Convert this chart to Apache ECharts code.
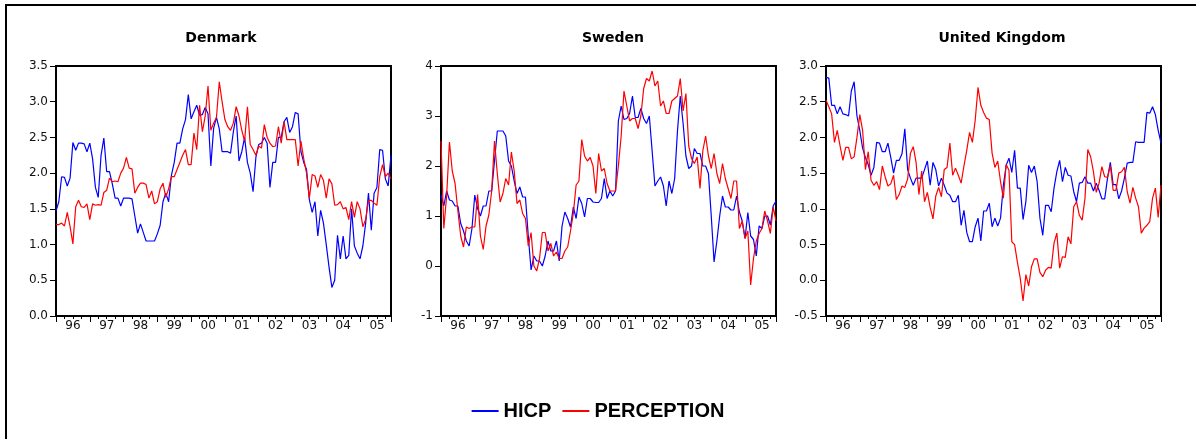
<!DOCTYPE html>
<html>
<head>
    <meta charset="utf-8">
    <title>HICP vs perception</title>
    <script src="https://cdn.jsdelivr.net/npm/echarts@6/dist/echarts.min.js"></script>
    <style>
        html, body { margin: 0; padding: 0; background: #fff; }
        #main { width: 1196px; height: 439px; }
    </style>
</head>
<body>
<div id="main"></div>
<script type="text/javascript">
    // monthly observations, 1996M01 .. 2005M12
    var yearLabels = ['96', '97', '98', '99', '00', '01', '02', '03', '04', '05'];
    var countries = ['Denmark', 'Sweden', 'United Kingdom'];

    var dkHicp = [
        1.47, 1.6, 1.95, 1.94, 1.82, 1.93, 2.43, 2.32, 2.42, 2.42, 2.41, 2.3,
        2.42, 2.2, 1.8, 1.66, 2.25, 2.49, 2.02, 2.02, 1.85, 1.65, 1.65, 1.54,
        1.65, 1.65, 1.65, 1.64, 1.4, 1.16, 1.29, 1.17, 1.05, 1.05, 1.05, 1.05,
        1.15, 1.27, 1.6, 1.72, 1.6, 1.97, 2.15, 2.42, 2.42, 2.62, 2.75, 3.1,
        2.76, 2.86, 2.95, 2.81, 2.82, 2.92, 2.83, 2.1, 2.63, 2.78, 2.62, 2.3,
        2.3, 2.3, 2.28, 2.58, 2.8, 2.17, 2.3, 2.5, 2.15, 2.0, 1.74, 2.22,
        2.4, 2.42, 2.5, 2.42, 1.8, 2.15, 2.15, 2.5, 2.5, 2.72, 2.78, 2.57,
        2.65, 2.85, 2.83, 2.3, 2.15, 2.05, 1.63, 1.45, 1.6, 1.12, 1.48, 1.3,
        1.0, 0.68, 0.4, 0.5, 1.13, 0.8, 1.12, 0.8, 0.85, 1.5, 0.98, 0.88,
        0.8, 0.98, 1.3, 1.72, 1.2, 1.72, 1.8, 2.33, 2.32, 1.92, 1.82, 2.25
    ];
    var dkPerc = [
        1.28, 1.28, 1.3, 1.26, 1.45, 1.25, 1.01, 1.53, 1.62, 1.53, 1.52, 1.57,
        1.35, 1.57, 1.55, 1.56, 1.55, 1.73, 1.76, 1.93, 1.88, 1.89, 1.88, 2.0,
        2.07, 2.22, 2.07, 2.06, 1.72, 1.8, 1.86, 1.86, 1.84, 1.65, 1.75, 1.57,
        1.6, 1.78, 1.86, 1.66, 1.78, 1.95, 1.95, 2.05, 2.15, 2.25, 2.33, 2.12,
        2.12, 2.56, 2.33, 2.95, 2.58, 2.8, 3.22, 2.6, 2.7, 2.78, 3.28, 3.0,
        2.75, 2.65, 2.6, 2.7, 2.93, 2.8, 2.6, 2.45, 2.93, 2.4, 2.33, 2.25,
        2.38, 2.35, 2.68, 2.5, 2.42, 2.37, 2.38, 2.65, 2.42, 2.72, 2.47, 2.47,
        2.47, 2.47, 2.1, 2.45, 2.2, 2.0, 1.65, 1.98, 1.96, 1.8, 1.98, 1.9,
        1.65, 1.92, 1.85, 1.55, 1.56, 1.6, 1.5, 1.52, 1.35, 1.6, 1.38, 1.6,
        1.5, 1.25, 1.35, 1.62, 1.62, 1.58, 1.55, 1.95, 2.12, 1.95, 2.0, 1.92
    ];
    var seHicp = [
        1.42, 1.2, 1.5, 1.32, 1.3, 1.2, 1.2, 0.85, 0.7, 0.5, 0.4, 0.75,
        1.42, 1.15, 1.0, 1.2, 1.2, 1.5, 1.5, 2.1, 2.7, 2.7, 2.7, 2.6,
        2.1, 2.0, 1.7, 1.45, 1.58, 1.38, 1.38, 0.6, -0.08, 0.2, 0.1, 0.1,
        0.0, 0.2, 0.5, 0.3, 0.3, 0.5, 0.1, 0.8, 1.08, 0.95, 0.78, 1.18,
        0.95, 1.38, 1.25, 0.98, 1.35, 1.35, 1.28, 1.27, 1.27, 1.35, 1.75, 1.35,
        1.5, 1.4, 1.5, 2.9, 3.2, 2.93, 2.95, 3.05, 3.4, 2.97, 2.97, 3.15,
        2.95, 2.85, 3.0, 2.3, 1.6, 1.7, 1.78, 1.6, 1.2, 1.7, 1.45, 1.75,
        2.7, 3.4, 2.85, 2.2, 1.95, 2.0, 2.35, 2.25, 2.25, 2.0, 2.0, 1.85,
        1.0, 0.08, 0.5, 1.0, 1.4, 1.18, 1.18, 1.12, 1.12, 1.4, 1.08, 0.9,
        0.55, 1.07, 0.6, 0.53, 0.2, 0.8, 0.75, 1.0, 1.0, 0.82, 1.2, 1.3
    ];
    var sePerc = [
        2.5, 0.75, 1.4, 2.48, 1.9, 1.65, 1.1, 0.6, 0.38, 0.78, 0.75, 0.78,
        0.78, 1.43, 0.6, 0.33, 0.8, 1.02, 1.5, 2.5, 1.85, 1.28, 1.45, 1.75,
        1.62, 2.28, 1.9, 1.25, 1.32, 1.05, 0.95, 0.4, 0.67, 0.0, -0.1, 0.15,
        0.67, 0.67, 0.3, 0.45, 0.2, 0.28, 0.15, 0.15, 0.3, 0.38, 0.7, 1.05,
        1.62, 1.7, 2.53, 2.2, 2.1, 2.17, 2.0, 1.45, 2.25, 1.9, 1.95, 1.65,
        1.5, 1.5, 1.5, 2.0, 2.6, 3.5, 3.2, 2.9, 2.95, 2.95, 2.75, 3.0,
        3.55, 3.75, 3.7, 3.9, 3.6, 3.7, 3.2, 3.3, 3.05, 3.05, 3.3, 3.35,
        3.4, 3.75, 3.1, 3.45, 2.4, 2.15, 2.05, 2.18, 1.55, 2.3, 2.6, 2.2,
        1.95, 2.25, 1.85, 1.65, 2.05, 1.75, 1.55, 1.35, 1.7, 1.7, 0.75, 0.9,
        0.55, 0.7, -0.38, 0.15, 0.5, 0.65, 0.75, 1.1, 0.9, 0.65, 1.18, 0.9
    ];
    var ukHicp = [
        2.84, 2.83, 2.45, 2.45, 2.33, 2.43, 2.33, 2.32, 2.3, 2.65, 2.78, 2.3,
        2.1, 1.85, 1.72, 1.62, 1.47, 1.58, 1.93, 1.92, 1.8, 1.8, 1.92, 1.72,
        1.5, 1.68, 1.68, 1.77, 2.12, 1.55, 1.43, 1.33, 1.43, 1.43, 1.43, 1.55,
        1.67, 1.33, 1.65, 1.55, 1.32, 1.43, 1.33, 1.22, 1.19, 1.1, 1.1, 1.19,
        0.77, 0.98, 0.67, 0.54, 0.54, 0.75, 0.87, 0.55, 0.97, 0.97, 1.08, 0.75,
        0.87, 0.76, 0.87, 1.33, 1.61, 1.71, 1.51, 1.82, 1.29, 1.29, 0.85, 1.1,
        1.61, 1.51, 1.6, 1.38, 0.87, 0.63, 1.05, 1.05, 0.96, 1.29, 1.52, 1.68,
        1.38, 1.58, 1.47, 1.46, 1.24, 1.1, 1.36, 1.37, 1.45, 1.36, 1.36, 1.25,
        1.36, 1.26, 1.14, 1.14, 1.43, 1.65, 1.34, 1.34, 1.14, 1.25, 1.43, 1.64,
        1.65, 1.65, 1.94, 1.93, 1.93, 1.93, 2.35, 2.34, 2.43, 2.32, 2.1, 1.92
    ];
    var ukPerc = [
        2.52, 2.43, 2.33, 1.93, 2.1, 1.88, 1.68, 1.86, 1.86, 1.7, 1.73, 2.0,
        2.32, 2.1, 1.55, 1.8, 1.4, 1.33, 1.38, 1.27, 1.6, 1.45, 1.32, 1.35,
        1.47, 1.13, 1.2, 1.32, 1.3, 1.42, 1.78, 1.87, 1.65, 1.2, 1.53, 1.1,
        1.23, 1.02, 0.86, 1.18, 1.3, 1.17, 1.55, 1.58, 1.92, 1.47, 1.57, 1.47,
        1.36, 1.6, 1.82, 2.07, 1.93, 2.24, 2.7, 2.45, 2.35, 2.27, 2.25, 1.78,
        1.58, 1.67, 1.38, 1.15, 1.62, 1.54, 0.54, 0.5, 0.25, 0.03, -0.29, 0.08,
        -0.08, 0.19, 0.3, 0.3, 0.11, 0.05, 0.14, 0.18, 0.17, 0.52, 0.66, 0.17,
        0.33, 0.32, 0.61, 0.51, 1.03, 1.1, 0.91, 0.84, 1.15, 1.83, 1.73, 1.52,
        1.23, 1.36, 1.59, 1.45, 1.44, 1.61, 1.26, 1.26, 1.5, 1.52, 1.58, 1.24,
        1.08, 1.3, 1.15, 1.03, 0.66, 0.73, 0.77, 0.82, 1.15, 1.29, 0.88, 1.33
    ];

    // y ranges per panel
    var yMin = [0, -1, -0.5];
    var yMax = [3.5, 4, 3.0];
    var yStep = [0.5, 1, 0.5];
    var yDigits = [1, 0, 1];

    var hicpAll = [dkHicp, seHicp, ukHicp];
    var percAll = [dkPerc, sePerc, ukPerc];

    // the source picture is stretched sideways, so a wide face fits the tick labels best
    var WIDE = '"DejaVu Sans", Verdana, sans-serif';
    var ARIAL = '"Liberation Sans", Arial, sans-serif';
    var gridLeft = [56, 441, 826];
    var titleX = [216, 608, 997];
    var gridTop = 66, gridW = 335, gridH = 250;

    function toPairs(arr) {
        return arr.map(function (v, i) { return [i, v]; });
    }

    function drawGraph() {
        var myChart = echarts.init(document.getElementById('main'));

        var titles = [], grids = [], xAxes = [], yAxes = [], series = [];
        for (var i = 0; i < 3; i++) {
            titles.push({
                text: countries[i],
                left: titleX[i],
                top: 26,
                textAlign: 'center',
                textStyle: { fontFamily: WIDE, fontSize: 14, fontWeight: 'bold', color: '#000' }
            });
            grids.push({
                left: gridLeft[i], top: gridTop, width: gridW, height: gridH,
                show: true, borderColor: '#000', borderWidth: 2, backgroundColor: 'transparent'
            });
            xAxes.push({
                type: 'value', gridIndex: i, min: 0, max: 119, interval: 12,
                axisLine: { onZero: false, lineStyle: { color: '#000', width: 2 } },
                axisTick: { length: 6, lineStyle: { color: '#000', width: 1 } },
                minorTick: { show: true, splitNumber: 4, length: 3, lineStyle: { color: '#000', width: 1 } },
                splitLine: { show: false },
                axisLabel: {
                    margin: 4,
                    fontFamily: WIDE, fontSize: 12, color: '#111',
                    formatter: function (v) {
                        if (v % 12 !== 0 || v >= 120) return '';
                        return '{a|' + yearLabels[v / 12] + '}';
                    },
                    rich: { a: { padding: [0, 0, 0, 34], fontFamily: WIDE, fontSize: 12, color: '#111' } }
                }
            });
            (function (idx) {
                yAxes.push({
                    type: 'value', gridIndex: idx, min: yMin[idx], max: yMax[idx], interval: yStep[idx],
                    axisLine: { show: true, lineStyle: { color: '#000', width: 2 } },
                    axisTick: { show: true, length: 6, lineStyle: { color: '#000' } },
                    splitLine: { show: false },
                    axisLabel: {
                        margin: 8, fontFamily: WIDE, fontSize: 12, color: '#111',
                        formatter: function (v) { return v.toFixed(yDigits[idx]); }
                    }
                });
            })(i);
            series.push({
                name: 'HICP', type: 'line', xAxisIndex: i, yAxisIndex: i,
                data: toPairs(hicpAll[i]), showSymbol: false, symbol: 'none',
                lineStyle: { color: '#0000ff', width: 1.2 }, itemStyle: { color: '#0000ff' },
                animation: false
            });
            series.push({
                name: 'PERCEPTION', type: 'line', xAxisIndex: i, yAxisIndex: i,
                data: toPairs(percAll[i]), showSymbol: false, symbol: 'none',
                lineStyle: { color: '#ff0000', width: 1.2 }, itemStyle: { color: '#ff0000' },
                animation: false
            });
        }

        var option = {
            backgroundColor: '#fff',
            animation: false,
            title: titles,
            grid: grids,
            xAxis: xAxes,
            yAxis: yAxes,
            legend: {
                data: ['HICP', 'PERCEPTION'],
                left: 'center',
                top: 396,
                icon: 'rect',
                itemWidth: 27,
                itemHeight: 2,
                itemGap: 11,
                textStyle: { fontFamily: ARIAL, fontSize: 20, fontWeight: 'bold', color: '#000' }
            },
            graphic: [{
                type: 'rect',
                shape: { x: 6, y: 5, width: 1400, height: 600 },
                style: { fill: 'none', stroke: '#000', lineWidth: 2 },
                silent: true
            }],
            series: series
        };

        myChart.setOption(option);
    }

    drawGraph();
</script>
</body>
</html>
